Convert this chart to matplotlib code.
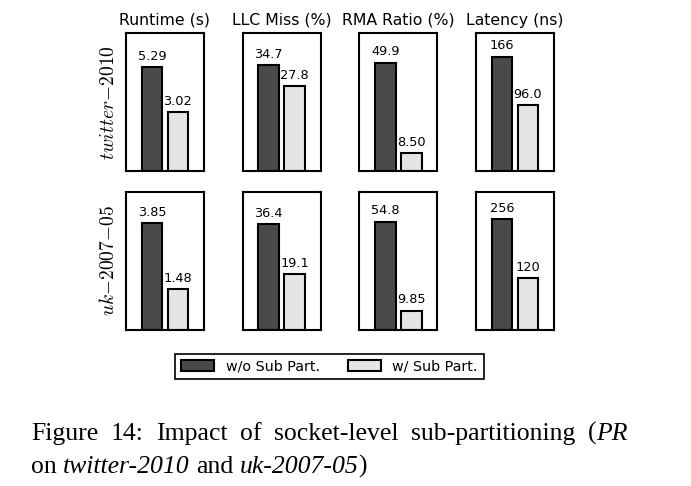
import matplotlib
import matplotlib.pyplot as plt

matplotlib.use('Agg')

metrics = ['Runtime (s)', 'LLC Miss (%)', 'RMA Ratio (%)', 'Latency (ns)']
graphs = ['twitter{-}2010', 'uk{-}2007{-}05']
series = ['w/o Sub Part.', 'w/ Sub Part.']

# one row per graph, one column per metric
without_sub = [[5.29, 34.7, 49.9, 166], [3.85, 36.4, 54.8, 256]]
with_sub = [[3.02, 27.8, 8.50, 96.0], [1.48, 19.1, 9.85, 120]]
y_top = [[7.0, 45, 63.5, 200], [5.0, 47.5, 70, 320]]

W, H = 691, 486
dark, light = '#4a4a4a', '#e5e5e5'


def fmt(v):
    return f"{v:#.3g}".rstrip('.')


fig, axes = plt.subplots(2, 4, figsize=(W / 100, H / 100), dpi=100)
fig.subplots_adjust(left=126 / W, right=554 / W, top=1 - 33 / H, bottom=1 - 330 / H,
                    wspace=0.5, hspace=0.145)

for r, graph in enumerate(graphs):
    for c, metric in enumerate(metrics):
        ax = axes[r, c]
        vals = [without_sub[r][c], with_sub[r][c]]
        bars = ax.bar([0, 1], vals, width=0.8, color=[dark, light],
                      edgecolor='black', linewidth=1.5)
        ax.bar_label(bars, labels=[fmt(v) for v in vals], padding=3, fontsize=9.3)
        ax.set_xlim(-1, 2)
        ax.set_ylim(0, y_top[r][c])
        ax.set_xticks([])
        ax.set_yticks([])
        for s in ax.spines.values():
            s.set_linewidth(1.5)
        if r == 0:
            ax.set_title(metric, fontsize=11.3, pad=6)
        if c == 0:
            ax.set_ylabel('$' + graph + '$', fontsize=14, math_fontfamily='cm', labelpad=6)

handles = axes[0, 0].patches[:2]
leg = fig.legend(handles, series, loc='center', bbox_to_anchor=(329.5 / W, 1 - 366.5 / H),
                 ncol=2, fontsize=10.3, fancybox=False, edgecolor='black', framealpha=1,
                 handlelength=2.3, handleheight=0.8, columnspacing=2.0, handletextpad=0.8,
                 borderpad=0.4)
leg.get_frame().set_linewidth(1.2)

# caption, written word by word so the first line can be justified
cap_size = 18.5
line1 = [[('Figure', False)], [('14:', False)], [('Impact', False)], [('of', False)],
         [('socket-level', False)], [('sub-partitioning', False)], [('(', False), ('PR', True)]]
line2 = [[('on', False)], [('twitter-2010', True)], [('and', False)],
         [('uk-2007-05', True), (')', False)]]


def draw_line(words, x0, y, x1=None):
    rend = fig.canvas.get_renderer()
    items = []
    for word in words:
        parts = []
        for s, it in word:
            t = fig.text(0, 0, s, fontsize=cap_size, family='Liberation Serif',
                         style='italic' if it else 'normal', va='baseline')
            parts.append((t, t.get_window_extent(rend).width))
        items.append(parts)
    widths = [sum(w for _, w in parts) for parts in items]
    gap = cap_size * fig.dpi / 72 * 0.25
    if x1 is not None:
        gap = (x1 - x0 - sum(widths)) / (len(words) - 1)
    x = x0
    for parts in items:
        for t, w in parts:
            t.set_position((x / W, 1 - y / H))
            x += w
        x += gap


draw_line(line1, 31, 440, 628)
draw_line(line2, 31, 473)

fig.savefig('out.png', dpi=100)
